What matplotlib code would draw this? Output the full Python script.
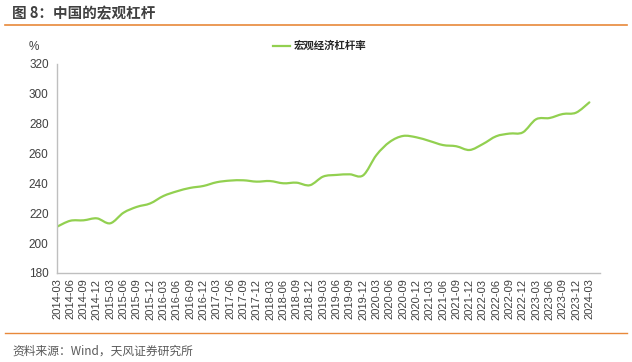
import matplotlib
matplotlib.use("Agg")
import matplotlib.pyplot as plt
from matplotlib.path import Path
from matplotlib.patches import PathPatch
from matplotlib.lines import Line2D
import numpy as np

# 季度标签
quarters = ['2014-03', '2014-06', '2014-09', '2014-12', '2015-03', '2015-06', '2015-09', '2015-12',
            '2016-03', '2016-06', '2016-09', '2016-12', '2017-03', '2017-06', '2017-09', '2017-12',
            '2018-03', '2018-06', '2018-09', '2018-12', '2019-03', '2019-06', '2019-09', '2019-12',
            '2020-03', '2020-06', '2020-09', '2020-12', '2021-03', '2021-06', '2021-09', '2021-12',
            '2022-03', '2022-06', '2022-09', '2022-12', '2023-03', '2023-06', '2023-09', '2023-12',
            '2024-03']

# 宏观经济杠杆率, %
leverage = [211.0, 215.0, 215.3, 216.6, 213.3, 220.4, 224.3, 226.6,
            231.6, 234.7, 237.0, 238.3, 240.8, 241.9, 242.1, 241.2,
            241.6, 240.1, 240.5, 238.8, 244.6, 245.7, 246.1, 245.4,
            259.0, 267.8, 271.8, 270.9, 268.4, 265.7, 264.9, 262.4,
            266.4, 271.6, 273.4, 274.2, 283.0, 283.8, 286.5, 287.4,
            294.3]

yticks = [180, 200, 220, 240, 260, 280, 300, 320]

W, H = 632, 362
green = '#92D050'
orange = '#E8893A'
gray = '#BFBFBF'
cjk = ['Noto Sans CJK SC', 'DejaVu Sans']
latin = ['Liberation Sans', 'DejaVu Sans']

fig = plt.figure(figsize=(W / 100, H / 100), dpi=100)
ax = fig.add_axes([57 / W, 1 - 273 / H, (600 - 57) / W, (273 - 64) / H])

# 平滑曲线 (类似 Excel 的平滑线), 控制点由数据点得到
x = np.arange(len(leverage), dtype=float)
y = np.array(leverage)
verts = [(x[0], y[0])]
codes = [Path.MOVETO]
n = len(x)
for i in range(n - 1):
    p0 = (x[max(i - 1, 0)], y[max(i - 1, 0)])
    p1 = (x[i], y[i])
    p2 = (x[i + 1], y[i + 1])
    p3 = (x[min(i + 2, n - 1)], y[min(i + 2, n - 1)])
    c1 = (p1[0] + (p2[0] - p0[0]) / 6, p1[1] + (p2[1] - p0[1]) / 6)
    c2 = (p2[0] - (p3[0] - p1[0]) / 6, p2[1] - (p3[1] - p1[1]) / 6)
    verts += [c1, c2, p2]
    codes += [Path.CURVE4] * 3
ax.add_patch(PathPatch(Path(verts, codes), facecolor='none', edgecolor=green, lw=1.6,
                       capstyle='round', joinstyle='round'))

ax.set_xlim(0, 40.8)
ax.set_ylim(180, 320)
ax.set_yticks(yticks)
ax.set_yticklabels([str(v) for v in yticks], family=latin, fontsize=8.5, color='#404040')
ax.set_xticks(x)
ax.set_xticklabels(quarters, rotation=90, family=latin, fontsize=8, color='#404040')
ax.tick_params(axis='y', length=0, pad=6)
ax.tick_params(axis='x', length=0, pad=4)
for s in ['top', 'right']:
    ax.spines[s].set_visible(False)
for s in ['left', 'bottom']:
    ax.spines[s].set_color(gray)
    ax.spines[s].set_linewidth(1.0)

# "%" 单位
fig.text(34 / W, 1 - 47 / H, '%', family=latin, fontsize=8.5, color='#404040', ha='center', va='center')

# 图例
ax.plot([], [], color=green, lw=1.6, label='宏观经济杠杆率')
leg = ax.legend(loc='center', bbox_to_anchor=((320 - 57) / (600 - 57), (273 - 46) / (273 - 64)),
                frameon=False, prop={'family': cjk, 'size': 7.5, 'weight': 'bold'},
                handlelength=1.6, handletextpad=0.4)
for t in leg.get_texts():
    t.set_color('#262626')

# 标题和来源
fig.text(12 / W, 1 - 13 / H, '图 8：中国的宏观杠杆', family=cjk, fontsize=10.5, weight='bold',
         color='#404040', ha='left', va='center')
fig.add_artist(Line2D([5 / W, 627 / W], [1 - 25 / H, 1 - 25 / H], color=orange, lw=1.2))
fig.add_artist(Line2D([5 / W, 627 / W], [1 - 333 / H, 1 - 333 / H], color=orange, lw=1.0))
fig.text(12 / W, 1 - 351 / H, '资料来源：Wind，天风证券研究所', family=cjk, fontsize=8.5,
         color='#595959', ha='left', va='center')

fig.savefig('out.png', dpi=100)
